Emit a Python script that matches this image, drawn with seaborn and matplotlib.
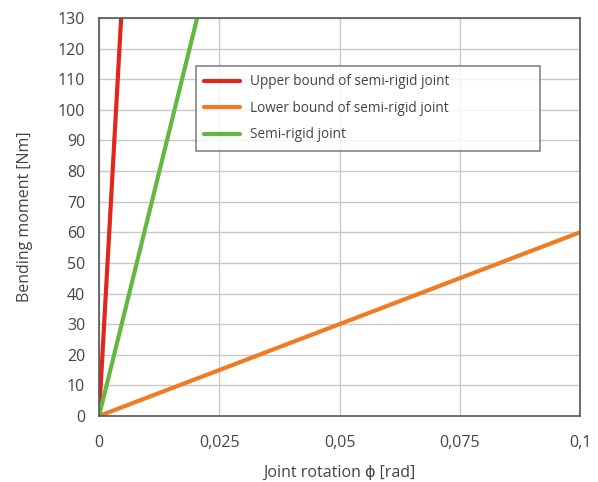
import numpy as np
import pandas as pd
import matplotlib.pyplot as plt
import seaborn as sns

# rotation [rad] vs bending moment [Nm]
upper_x = [0.0, 0.0046]
upper_y = [0, 130]
lower_x = [0.0, 0.1]
lower_y = [0, 60]
semi_x = [0.0, 0.0204]
semi_y = [0, 130]

labels = ['Upper bound of semi-rigid joint',
          'Lower bound of semi-rigid joint',
          'Semi-rigid joint']
colors = ['#e0261d', '#f07b22', '#62b942']

xticks = [0, 0.025, 0.05, 0.075, 0.1]
xtick_labels = ['0', '0,025', '0,05', '0,075', '0,1']

sns.set_style('whitegrid')
plt.rcParams['font.family'] = ['Open Sans', 'DejaVu Sans']

fig = plt.figure(figsize=(5.98, 4.82), dpi=100)
ax = fig.add_axes([0.1656, 0.137, 0.8044, 0.8257])

for xs, ys, lab, c in zip([upper_x, lower_x, semi_x], [upper_y, lower_y, semi_y], labels, colors):
    df = pd.DataFrame({'x': xs, 'y': ys})
    sns.lineplot(data=df, x='x', y='y', ax=ax, color=c, lw=3, label=lab)

ax.set_xlim(0, 0.1)
ax.set_ylim(0, 130)
ax.set_xticks(xticks)
ax.set_xticklabels(xtick_labels)
ax.set_yticks(np.arange(0, 131, 10))
ax.grid(True, color='#c8c8c8', lw=1)
for s in ax.spines.values():
    s.set_color('#555555')
    s.set_linewidth(1.2)
ax.tick_params(colors='#444444', labelsize=11.5, length=0)
ax.tick_params(axis='x', pad=14)
ax.tick_params(axis='y', pad=10)
ax.set_xlabel('Joint rotation ϕ [rad]', color='#444444', fontsize=11.5, labelpad=10)
ax.set_ylabel('Bending moment [Nm]', color='#444444', fontsize=11.5, labelpad=18)

leg = ax.legend(loc='upper left', bbox_to_anchor=(0.2017, 0.0, 0.715, 0.879), mode='expand',
                borderaxespad=0, frameon=True, fancybox=False, fontsize=9.8,
                handlelength=2.6, labelspacing=0.85, borderpad=0.6)
leg.get_frame().set_edgecolor('#666666')
leg.get_frame().set_linewidth(1.2)
for t in leg.get_texts():
    t.set_color('#444444')

fig.savefig('out.png', dpi=100)
